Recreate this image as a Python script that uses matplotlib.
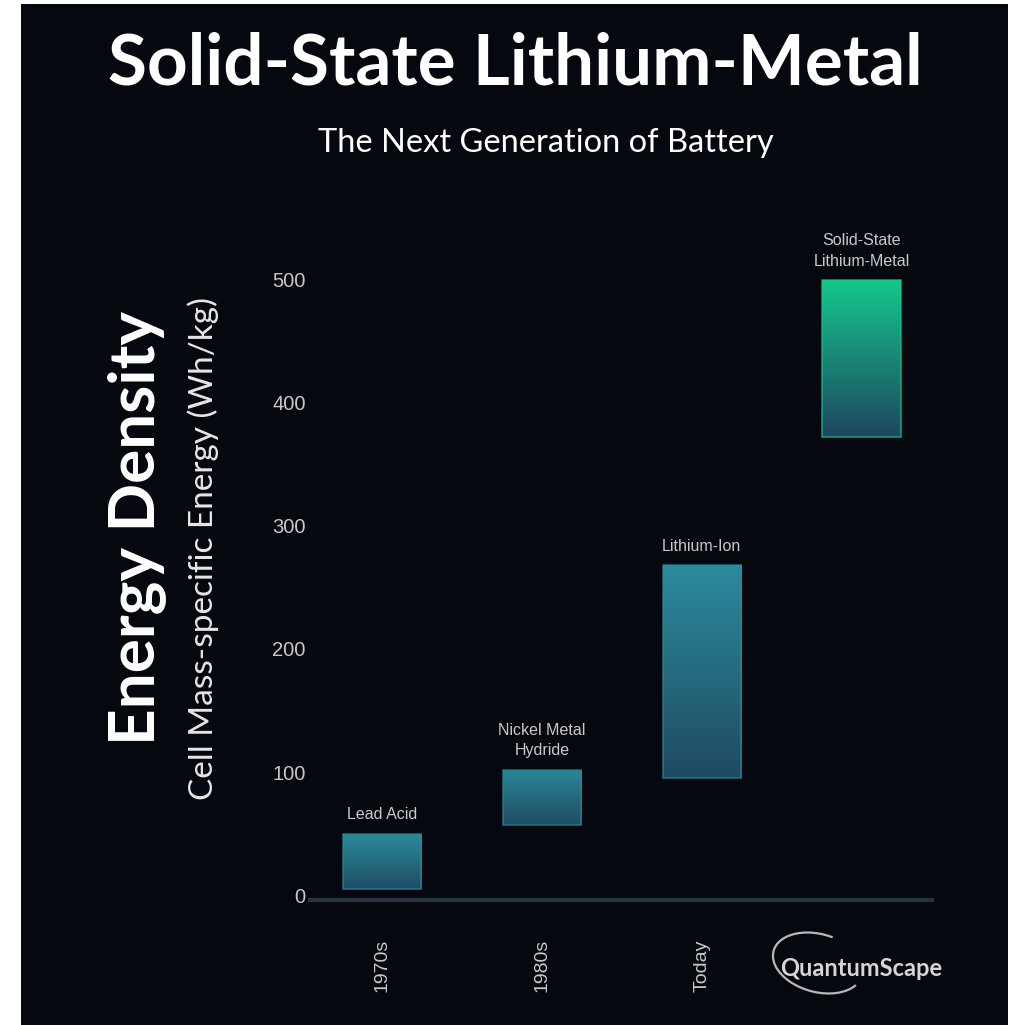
import matplotlib.pyplot as plt
import numpy as np
from matplotlib.colors import LinearSegmentedColormap
from matplotlib.patches import Rectangle, Arc

# Data
eras = ['1970s', '1980s', 'Today']
chemistries = ['Lead Acid', 'Nickel Metal\nHydride', 'Lithium-Ion', 'Solid-State\nLithium-Metal']
low = [5, 57, 95, 372]
high = [50, 102, 268, 500]
top_colors = ['#2b8a9a', '#2a8797', '#2b8b9c', '#14c98b']
bottom_colors = ['#1f4d65', '#1f4c63', '#1f4a63', '#1f4560']
yticks = [0, 100, 200, 300, 400, 500]

W, H = 1015, 1025
bg = '#05080e'
fig = plt.figure(figsize=(W / 100, H / 100), dpi=100, facecolor='white')

# dark panel with thin white border on left / right / top
fig.patches.append(Rectangle((21 / W, 0), (1008 - 21) / W, (H - 4) / H,
                             transform=fig.transFigure, facecolor=bg,
                             edgecolor='none', zorder=-5))

# axes placed in pixel terms: x 310..932, y 270..900 (top-down)
ax = fig.add_axes([310 / W, (H - 900) / H, 622 / W, 630 / H])
ax.set_facecolor(bg)
ax.patch.set_alpha(0)

x = np.arange(len(chemistries))
width = 0.49

for i in range(len(chemistries)):
    cmap = LinearSegmentedColormap.from_list('g%d' % i, [bottom_colors[i], top_colors[i]])
    grad = np.linspace(0, 1, 256).reshape(-1, 1)
    im = ax.imshow(grad, cmap=cmap, origin='lower', aspect='auto',
                   extent=[x[i] - width / 2, x[i] + width / 2, low[i], high[i]], zorder=2)
    bar = ax.bar(x[i], high[i] - low[i], width, bottom=low[i],
                 facecolor='none', edgecolor=top_colors[i], linewidth=1.2,
                 alpha=0.7, zorder=3)
    im.set_clip_path(bar[0])
    ax.annotate(chemistries[i], (x[i], high[i]), xytext=(0, 8),
                textcoords='offset points', ha='center', va='bottom',
                color='#c9c9c9', fontsize=11.5, family='Liberation Sans',
                linespacing=1.45)

ax.set_xlim(-0.45, 3.44)
ax.set_ylim(-4, 508)
ax.set_yticks(yticks)
ax.set_yticklabels([str(t) for t in yticks], color='#c8c8c8', fontsize=14.5,
                   family='Liberation Sans')
ax.tick_params(axis='y', length=0, pad=3)
ax.set_xticks([])
for s in ['top', 'right', 'left']:
    ax.spines[s].set_visible(False)
ax.spines['bottom'].set_color('#26343f')
ax.spines['bottom'].set_linewidth(3)

# era labels, rotated, aligned at their start
for i, era in enumerate(eras):
    ax.text(x[i], -92 / 630, era, rotation=90,
            transform=ax.get_xaxis_transform(), ha='center', va='bottom',
            color='#c8c8c8', fontsize=14, family='Liberation Sans')

# QuantumScape logo
fig.patches.append(Arc((818 / W, (H - 963) / H), 92 / W, 58 / H, angle=-15,
                       theta1=75, theta2=345, transform=fig.transFigure,
                       color='#b8b8b8', linewidth=1.6))
fig.text(861 / W, (H - 968) / H, 'QuantumScape', ha='center', va='center',
         color='#d6d6d6', fontsize=17, family='Lato', fontweight='bold')

# titles
fig.text(0.508, (H - 64) / H, 'Solid-State Lithium-Metal', ha='center', va='center',
         color='white', fontsize=51, fontweight='bold', family='Lato')
fig.text(0.5375, (H - 143) / H, 'The Next Generation of Battery', ha='center',
         va='center', color='white', fontsize=23.5, family='Lato')

fig.text(137 / W, (H - 528) / H, 'Energy Density', rotation=90, ha='center',
         va='center', color='white', fontsize=46, fontweight='bold', family='Lato')
fig.text(203 / W, (H - 548) / H, 'Cell Mass-specific Energy (Wh/kg)', rotation=90,
         ha='center', va='center', color='#e6e6e6', fontsize=24, family='Lato')

fig.savefig('out.png', dpi=100, facecolor=fig.get_facecolor())
